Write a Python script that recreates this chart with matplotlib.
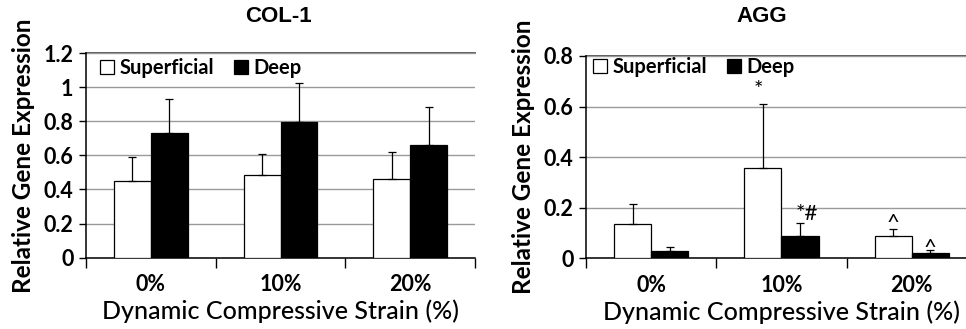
import numpy as np
import matplotlib.pyplot as plt

strains = ['0%', '10%', '20%']

col1_sup = [0.45, 0.485, 0.46]
col1_sup_sd = [0.14, 0.123, 0.16]
col1_deep = [0.733, 0.797, 0.66]
col1_deep_sd = [0.195, 0.23, 0.223]

agg_sup = [0.136, 0.356, 0.087]
agg_sup_sd = [0.08, 0.253, 0.029]
agg_deep = [0.028, 0.087, 0.02]
agg_deep_sd = [0.015, 0.054, 0.013]

agg_sup_marks = ['', '*', '^']
agg_deep_marks = ['', '*#', '^']

lab_font = ['Lato', 'DejaVu Sans']
plt.rcParams['font.family'] = lab_font

fig = plt.figure(figsize=(9.66, 3.29), dpi=100)
ax1 = fig.add_axes([0.089, 0.2167, 0.4028, 0.6222])
ax2 = fig.add_axes([0.6066, 0.215, 0.4048, 0.615])

w = 0.285
x = np.arange(len(strains)) + 0.5


def draw(ax, sup, sup_sd, deep, deep_sd, ymax, leg_x, leg_y):
    ax.bar(x - w / 2, sup, w, color='white', edgecolor='black', lw=0.9,
           label='Superficial', zorder=3)
    ax.bar(x + w / 2, deep, w, color='black', edgecolor='black', lw=0.9,
           label='Deep', zorder=3)
    ax.errorbar(x - w / 2, sup, yerr=[np.zeros(3), sup_sd], fmt='none',
                ecolor='black', elinewidth=0.9, capsize=3, capthick=0.9, zorder=4)
    ax.errorbar(x + w / 2, deep, yerr=[np.zeros(3), deep_sd], fmt='none',
                ecolor='black', elinewidth=0.9, capsize=3, capthick=0.9, zorder=4)
    ax.set_xlim(0, 3)
    ax.set_ylim(0, ymax)
    ax.set_xticks([0, 1, 2, 3])
    ax.set_xticklabels([])
    ax.set_xticks(x, minor=True)
    ax.set_xticklabels(strains, minor=True, fontsize=15.5, fontweight='bold')
    ax.tick_params(axis='x', which='minor', length=0, pad=12)
    ax.tick_params(axis='x', which='major', length=7, width=1, direction='out')
    ax.tick_params(axis='y', length=5, width=1, labelsize=15.5, pad=4)
    ax.yaxis.grid(True, color='#9a9a9a', lw=1, zorder=0)
    ax.axhline(ymax, color='#444444', lw=1.2, zorder=1, clip_on=False)
    for s in ['top', 'right']:
        ax.spines[s].set_visible(False)
    for s in ['left', 'bottom']:
        ax.spines[s].set_linewidth(1.1)
    ax.set_xlabel('Dynamic Compressive Strain (%)', fontsize=18,
                  fontweight='medium', labelpad=3)
    ax.set_ylabel('Relative Gene Expression', fontsize=17.5, fontweight='bold',
                  labelpad=6)
    ax.legend(loc='center left', ncol=2, frameon=False,
              handlelength=0.7, handleheight=0.7, handletextpad=0.25,
              columnspacing=1.0, bbox_to_anchor=(leg_x, leg_y),
              borderaxespad=0, borderpad=0,
              prop={'weight': 'bold', 'size': 14.5})


draw(ax1, col1_sup, col1_sup_sd, col1_deep, col1_deep_sd, 1.2, 0.036, 0.927)
ax1.set_yticks(np.arange(0, 1.21, 0.2))
ax1.set_yticklabels(['0', '0.2', '0.4', '0.6', '0.8', '1', '1.2'],
                    fontweight='bold')

draw(ax2, agg_sup, agg_sup_sd, agg_deep, agg_deep_sd, 0.8, 0.018, 0.947)
ax2.set_yticks(np.arange(0, 0.81, 0.2))
ax2.set_yticklabels(['0', '0.2', '0.4', '0.6', '0.8'], fontweight='bold')

title_font = ['Liberation Sans', 'DejaVu Sans']
fig.text(278 / 966, 1 - 17 / 329, 'COL-1', ha='center', va='center',
         fontsize=16, fontweight='bold', family=title_font)
fig.text(762 / 966, 1 - 17 / 329, 'AGG', ha='center', va='center',
         fontsize=16, fontweight='bold', family=title_font)

# significance marks above the AGG error bars (offsets in points)
sup_dx = [0, -3, 0]
sup_dy = [0, 6, 0]
deep_dx = [0, 5, 0]
deep_dy = [0, 2, -3]
for i in range(3):
    if agg_sup_marks[i]:
        ax2.annotate(agg_sup_marks[i], (x[i] - w / 2, agg_sup[i] + agg_sup_sd[i]),
                     xytext=(sup_dx[i], sup_dy[i]), textcoords='offset points',
                     ha='center', va='baseline', fontsize=16)
    if agg_deep_marks[i]:
        ax2.annotate(agg_deep_marks[i], (x[i] + w / 2, agg_deep[i] + agg_deep_sd[i]),
                     xytext=(deep_dx[i], deep_dy[i]), textcoords='offset points',
                     ha='center', va='baseline', fontsize=16)

fig.savefig('out.png', dpi=100)
